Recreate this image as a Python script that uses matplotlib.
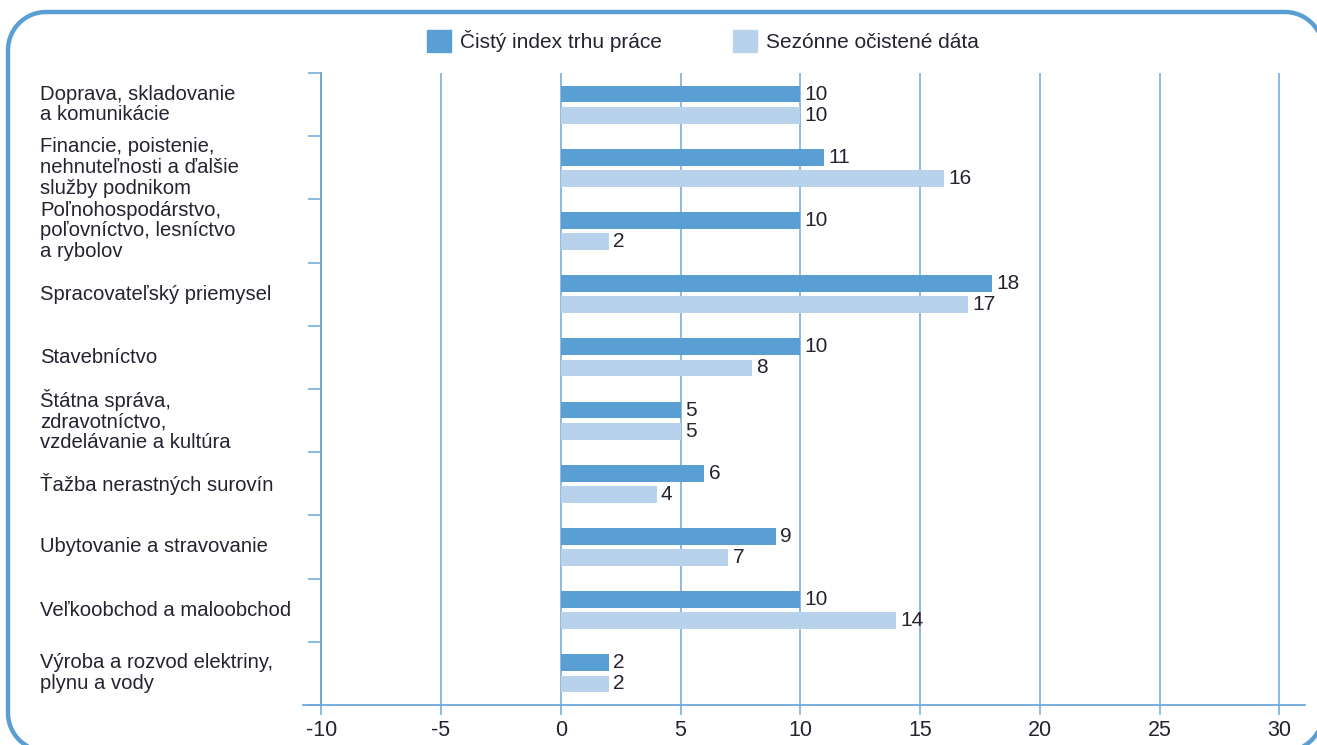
import numpy as np
import matplotlib.pyplot as plt
import matplotlib.transforms as mtransforms
from matplotlib.patches import Patch

plt.rcParams['font.family'] = ['Liberation Sans', 'DejaVu Sans']
plt.rcParams['axes.unicode_minus'] = False

categories = [
    "Doprava, skladovanie\na komunikácie",
    "Financie, poistenie,\nnehnuteľnosti a ďalšie\nslužby podnikom",
    "Poľnohospodárstvo,\npoľovníctvo, lesníctvo\na rybolov",
    "Spracovateľský priemysel",
    "Stavebníctvo",
    "Štátna správa,\nzdravotníctvo,\nvzdelávanie a kultúra",
    "Ťažba nerastných surovín",
    "Ubytovanie a stravovanie",
    "Veľkoobchod a maloobchod",
    "Výroba a rozvod elektriny,\nplynu a vody",
]
net_index = [10, 11, 10, 18, 10, 5, 6, 9, 10, 2]
seasonal = [10, 16, 2, 17, 8, 5, 4, 7, 14, 2]
series_names = ["Čistý index trhu práce", "Sezónne očistené dáta"]
x_ticks = [-10, -5, 0, 5, 10, 15, 20, 25, 30]

dark = "#599fd3"
light = "#b7d2ea"
line_col = "#6ea8da"
frame_col = "#5a9fd4"
text_col = "#24232f"

W, H = 1317, 745
fig = plt.figure(figsize=(W / 100, H / 100), dpi=100)

# rounded frame, built as a plain polyline (pixel coords of the figure)
bg = fig.add_axes([0, 0, 1, 1])
bg.set_xlim(0, W)
bg.set_ylim(H, 0)
bg.axis("off")
x0, y0, x1, y1, r = 8, 12, 1323, 751, 38
t = np.linspace(0, np.pi / 2, 30)
px, py = [], []
for cx, cy, a0 in ((x1 - r, y0 + r, 0), (x0 + r, y0 + r, np.pi / 2),
                   (x0 + r, y1 - r, np.pi), (x1 - r, y1 - r, 1.5 * np.pi)):
    px.extend(cx + r * np.cos(a0 + t))
    py.extend(cy - r * np.sin(a0 + t))
px.append(px[0])
py.append(py[0])
bg.plot(px, py, color=frame_col, lw=3.2, clip_on=True, solid_capstyle="round")

ax = fig.add_axes([303 / W, 1 - 705 / H, 1002 / W, 632 / H])
ax.set_xlim(-10.76, 31.07)
ax.set_ylim(len(categories), 0)

centers = [i + 0.5 for i in range(len(categories))]
bh = 0.265
off = 0.167
b1 = ax.barh([c - off for c in centers], net_index, height=bh, color=dark, zorder=3)
b2 = ax.barh([c + off for c in centers], seasonal, height=bh, color=light, zorder=3)

for bars, vals in ((b1, net_index), (b2, seasonal)):
    for rect, v in zip(bars, vals):
        ax.annotate(str(v), (v, rect.get_y() + rect.get_height() / 2),
                    xytext=(3, 0), textcoords="offset points",
                    va="center", ha="left", fontsize=15, color=text_col)

# category labels, left aligned near frame
tr = mtransforms.blended_transform_factory(fig.transFigure, ax.transData)
for c, lab in zip(centers, categories):
    ax.text(40 / W, c, lab, transform=tr, ha="left", va="center",
            fontsize=14.6, color=text_col, linespacing=1.12)

ax.set_xticks(x_ticks)
ax.set_xticklabels([str(t) for t in x_ticks])
ax.set_yticks(range(len(categories) + 1))
ax.set_yticklabels([])
ax.grid(axis="x", color=line_col, lw=1.1, zorder=1)
ax.set_axisbelow(True)

for s in ("top", "right"):
    ax.spines[s].set_visible(False)
ax.spines["left"].set_position(("data", -10))
ax.spines["left"].set_color(line_col)
ax.spines["left"].set_linewidth(1.3)
ax.spines["bottom"].set_color(line_col)
ax.spines["bottom"].set_linewidth(1.3)
ax.tick_params(axis="x", colors=line_col, labelcolor=text_col, labelsize=15.5,
               length=7, width=1.1, pad=4)
ax.tick_params(axis="y", colors=line_col, length=9.5, width=1.1)

handles = [Patch(color=dark), Patch(color=light)]
fig.legend(handles, series_names, loc="center", bbox_to_anchor=(703 / W, 1 - 41 / H),
           ncol=2, frameon=False, fontsize=15, handlelength=1.15, handleheight=1.3,
           handletextpad=0.45, columnspacing=3.4, labelcolor=text_col)

fig.savefig("out.png", dpi=100)
